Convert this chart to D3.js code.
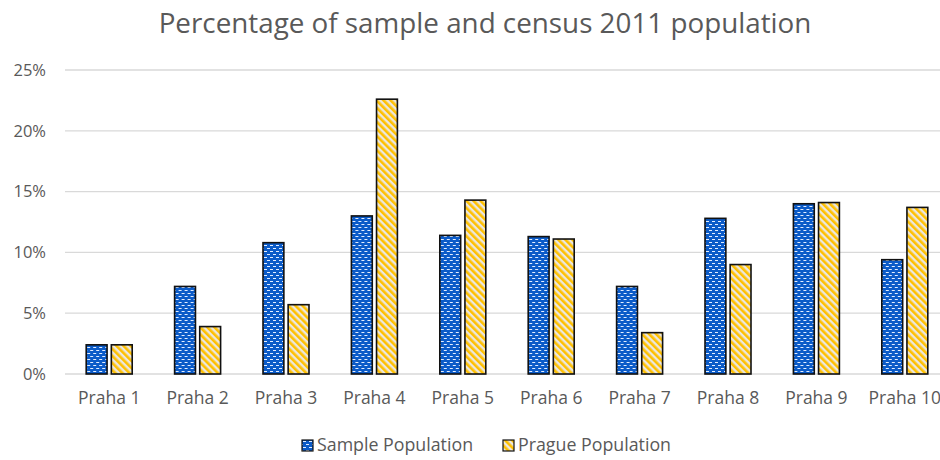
<!DOCTYPE html>
<html>
<head>
<meta charset="utf-8">
<script src="https://cdn.jsdelivr.net/npm/d3@7"></script>
<style>
  body { margin: 0; background: #fff; overflow: hidden; }
  svg text { font-family: "Open Sans", "Noto Sans", sans-serif; fill: #595959; }
</style>
</head>
<body>
<div id="chart"></div>
<script>
// districts along the x axis
let districts = ['Praha 1','Praha 2','Praha 3','Praha 4','Praha 5','Praha 6','Praha 7','Praha 8','Praha 9','Praha 10'];
let seriesNames = ['Sample Population','Prague Population'];
// percentages
let samplePop = [2.4, 7.2, 10.8, 13.0, 11.4, 11.3, 7.2, 12.8, 14.0, 9.4];
let praguePop = [2.4, 3.9, 5.7, 22.6, 14.3, 11.1, 3.4, 9.0, 14.1, 13.7];
let yTicks = [0, 5, 10, 15, 20, 25];

const W = 940, H = 460;
// the original chart runs a little past the right edge of the image
const margin = { top: 70, right: -9, bottom: 86, left: 65 };
let width = W - margin.left - margin.right;
let height = H - margin.top - margin.bottom;

let svg = d3.select('#chart').append('svg')
  .attr('width', W).attr('height', H);

// fill patterns
let defs = svg.append('defs');
let pb = defs.append('pattern').attr('id', 'pBlue')
  .attr('patternUnits', 'userSpaceOnUse').attr('width', 6).attr('height', 6);
pb.append('rect').attr('width', 6).attr('height', 6).attr('fill', '#0b5bc8');
pb.append('rect').attr('x', 1).attr('y', 1).attr('width', 3).attr('height', 1).attr('fill', '#e4eeff');
pb.append('rect').attr('x', 4).attr('y', 4).attr('width', 3).attr('height', 1).attr('fill', '#e4eeff');
pb.append('rect').attr('x', -2).attr('y', 4).attr('width', 3).attr('height', 1).attr('fill', '#e4eeff');

let py = defs.append('pattern').attr('id', 'pYellow')
  .attr('patternUnits', 'userSpaceOnUse').attr('width', 5).attr('height', 5)
  .attr('patternTransform', 'rotate(-45)');
py.append('rect').attr('width', 5).attr('height', 5).attr('fill', '#ebe7e0');
py.append('rect').attr('width', 2.6).attr('height', 5).attr('fill', '#ffc000');

let fills = ['url(#pBlue)', 'url(#pYellow)'];

let g = svg.append('g').attr('transform', `translate(${margin.left},${margin.top})`);

let x0 = d3.scaleBand().domain(districts).range([0, width]);
let x1 = d3.scaleBand().domain(seriesNames).range([0, 46]).paddingInner(0.17);
let y = d3.scaleLinear().domain([0, 25]).range([height, 0]);

// gridlines
g.selectAll('.grid').data(yTicks).join('line')
  .attr('x1', 0).attr('x2', width)
  .attr('y1', d => y(d)).attr('y2', d => y(d))
  .attr('stroke', '#d9d9d9').attr('stroke-width', 1.3);

// y axis labels
let yAxis = d3.axisLeft(y).tickValues(yTicks).tickFormat(d => d + '%').tickSize(0).tickPadding(19);
let ya = g.append('g').call(yAxis);
ya.select('.domain').remove();
ya.selectAll('text').attr('font-size', 16.5).attr('fill', '#595959');

// x axis labels
let xAxis = d3.axisBottom(x0).tickSize(0).tickPadding(18);
let xa = g.append('g').attr('transform', `translate(0,${height})`).call(xAxis);
xa.select('.domain').remove();
xa.selectAll('text').attr('font-size', 17.5).attr('fill', '#595959');

let data = districts.map((d, i) => ({ name: d, vals: [samplePop[i], praguePop[i]] }));

let groups = g.selectAll('.grp').data(data).join('g')
  .attr('transform', d => `translate(${x0(d.name) + (x0.bandwidth() - 46) / 2},0)`);

groups.selectAll('rect').data(d => d.vals.map((v, k) => ({ v: v, k: k })))
  .join('rect')
  .attr('x', d => x1(seriesNames[d.k]))
  .attr('y', d => y(d.v))
  .attr('width', x1.bandwidth())
  .attr('height', d => height - y(d.v))
  .attr('fill', d => fills[d.k])
  .attr('stroke', '#111').attr('stroke-width', 1.6);

// title
svg.append('text').attr('x', 485).attr('y', 33).attr('text-anchor', 'middle')
  .attr('font-size', 27.8).text('Percentage of sample and census 2011 population');

// legend
let leg = svg.append('g').attr('transform', 'translate(302,440)');
let items = leg.selectAll('g').data(seriesNames).join('g')
  .attr('transform', (d, i) => `translate(${i * 201},0)`);
items.append('rect').attr('width', 11).attr('height', 11)
  .attr('fill', (d, i) => fills[i]).attr('stroke', '#111').attr('stroke-width', 1.2);
items.append('text').attr('x', 15).attr('y', 11).attr('font-size', 17.8).text(d => d);
</script>
</body>
</html>
